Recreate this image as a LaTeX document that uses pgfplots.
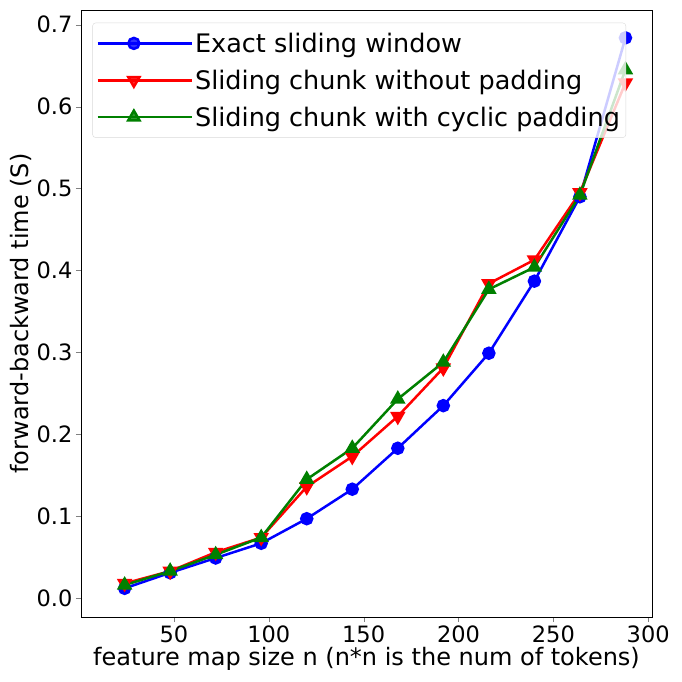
\documentclass[border=0pt]{standalone}
\usepackage{fontspec}
\setmainfont{DejaVu Sans}
\usepackage{pgfplots}
\pgfplotsset{compat=1.18}
\usetikzlibrary{calc}
\definecolor{mblue}{RGB}{0,0,255}
\definecolor{mred}{RGB}{255,0,0}
\definecolor{mgreen}{RGB}{0,128,0}
\begin{document}
\begin{tikzpicture}
\begin{axis}[name=ax, scale only axis, width=571pt, height=607pt,
  xmin=1, xmax=302, ymin=-0.023, ymax=0.718,
  xtick={50,100,150,200,250,300},
  ytick={0,0.1,0.2,0.3,0.4,0.5,0.6,0.7},
  yticklabel style={/pgf/number format/fixed,/pgf/number format/fixed zerofill,/pgf/number format/precision=1},
  /pgf/number format/assume math mode=true,
  tick label style={font=\fontsize{22.5}{27}\selectfont},
  label style={font=\fontsize{24}{29}\selectfont},
  xlabel={feature map size n (n*n is the num of tokens)},
  ylabel={forward-backward time (S)},
  xlabel style={yshift=2pt},
  ylabel style={yshift=-2pt},
  tick align=outside, xtick pos=bottom, ytick pos=left, major tick length=5pt,
  axis line style={line width=0.8pt},
  legend style={at={(0.02,0.979)}, anchor=north west, font=\fontsize{25.5}{30}\selectfont,
    rounded corners=3pt, draw=black!15, fill=white, fill opacity=0.8, text opacity=1,
    row sep=12pt, inner xsep=4pt, inner ysep=8pt},
  legend cell align=left,
  legend image code/.code={\draw[mark repeat=2,mark phase=2] plot coordinates {(0pt,0pt) (36pt,0pt) (72pt,0pt)};
    \path (0pt,0pt) -- (94pt,0pt);},
  every axis plot/.append style={line width=2.5pt},
]
\addplot[color=mblue, mark=*, mark size=5.5pt, mark options={solid}] coordinates {
(24,0.012) (48,0.031) (72,0.049) (96,0.067) (120,0.097) (144,0.133) (168,0.183) (192,0.235) (216,0.299) (240,0.387) (264,0.490) (288,0.684)};
\addlegendentry{Exact sliding window}
\addplot[color=mred, mark=triangle*, mark size=6.5pt, mark options={solid, rotate=180}] coordinates {
(24,0.018) (48,0.033) (72,0.056) (96,0.074) (120,0.136) (144,0.173) (168,0.222) (192,0.281) (216,0.384) (240,0.413) (264,0.495) (288,0.629)};
\addlegendentry{Sliding chunk without padding}
\addplot[color=mgreen, mark=triangle*, mark size=6.5pt, mark options={solid}] coordinates {
(24,0.016) (48,0.033) (72,0.053) (96,0.074) (120,0.145) (144,0.183) (168,0.243) (192,0.288) (216,0.377) (240,0.404) (264,0.492) (288,0.645)};
\addlegendentry{Sliding chunk with cyclic padding}
\end{axis}
\pgfresetboundingbox
\path[use as bounding box] ($(ax.south west)+(-81pt,-65pt)$) rectangle ($(ax.north east)+(30pt,10pt)$);
\end{tikzpicture}
\end{document}
